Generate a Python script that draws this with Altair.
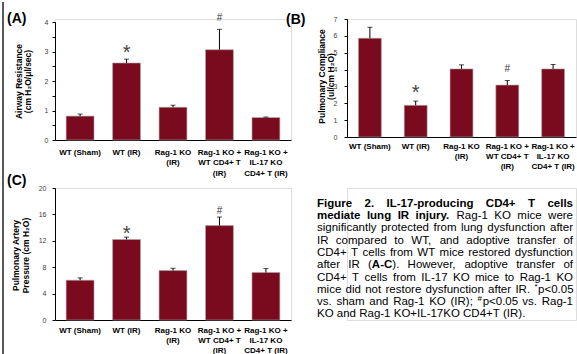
import altair as alt
import pandas as pd

# ---------------- data ----------------
groups = ["WT (Sham)", "WT (IR)", "Rag-1 KO|(IR)", "Rag-1 KO +|WT CD4+ T|(IR)", "Rag-1 KO +|IL-17 KO|CD4+ T (IR)"]
sig_marks = ["", "*", "", "#", ""]

airway_mean = [0.81, 2.61, 1.11, 3.06, 0.76]
airway_sem = [0.07, 0.13, 0.07, 0.69, 0.02]
compliance_mean = [5.86, 1.88, 4.04, 3.08, 4.04]
compliance_sem = [0.65, 0.25, 0.24, 0.27, 0.26]
pressure_mean = [6.03, 12.2, 7.49, 14.3, 7.19]
pressure_sem = [0.35, 0.36, 0.35, 1.30, 0.60]

caption_lines = [
    "**Figure 2. IL-17-producing CD4+ T cells**",
    "**mediate lung IR injury.** Rag-1 KO mice were",
    "significantly protected from lung dysfunction after",
    "IR compared to WT, and adoptive transfer of",
    "CD4+ T cells from WT mice restored dysfunction",
    "after IR (**A-C**). However, adoptive transfer of",
    "CD4+ T cells from IL-17 KO mice to Rag-1 KO",
    "mice did not restore dysfunction after IR. ^*^p<0.05",
    "vs. sham and Rag-1 KO (IR); ^#^p<0.05 vs. Rag-1",
    "KO and Rag-1 KO+IL-17KO CD4+T (IR).",
]
caption_justify = [True] * 9 + [False]

BAR = "#7a0a1e"
FONT = "Liberation Sans"

# ---------------- panels ----------------
def panel(mean, sem, label, title, ydomain, yvalues, integer_labels, width, height, yrange,
          pin, pout, lab_pad_y, lab_pad_x, lab_lh, title_x, title_y, title_lh,
          star_dy, hash_dy, label_x, label_y, left_line=False):
    df = pd.DataFrame({
        "group": groups,
        "mean": mean,
        "upper": [m + s for m, s in zip(mean, sem)],
        "sig": sig_marks,
    })
    xsc = alt.Scale(domain=groups, paddingInner=pin, paddingOuter=pout)
    ysc = alt.Scale(domain=ydomain, range=yrange, nice=False, zero=True)
    if integer_labels:
        label_expr = "datum.value % 1 == 0 ? format(datum.value, 'd') : ''"
    else:
        label_expr = "format(datum.value, 'd')"
    xaxis = alt.Axis(title=None, labelExpr="split(datum.label, '|')", labelFont=FONT,
                     labelFontWeight="bold", labelFontSize=8, labelColor="black",
                     labelLineHeight=lab_lh, labelPadding=lab_pad_x, ticks=False,
                     labelAngle=0, labelOverlap=False, labelLimit=0,
                     domainColor="black", domainWidth=1)
    yaxis = alt.Axis(title=title, titleFont=FONT, titleFontSize=8.5, titleFontWeight="bold",
                     titleColor="black", titleX=title_x, titleY=title_y,
                     titleBaseline="middle", titleLineHeight=title_lh,
                     values=yvalues, labelExpr=label_expr, labelFont=FONT,
                     labelFontSize=7, labelColor="#404040", labelPadding=lab_pad_y,
                     tickSize=3, tickColor="black", domainColor="black", domainWidth=1,
                     grid=False)
    X = alt.X("group:N", scale=xsc, sort=groups, axis=xaxis)
    base = alt.Chart(df)
    bars = base.mark_bar(color=BAR, stroke="#a8a8a8", strokeWidth=0.6).encode(
        x=X, y=alt.Y("mean:Q", scale=ysc, axis=yaxis))
    err = base.mark_rule(color="black", strokeWidth=1).encode(
        x=X, y=alt.Y("mean:Q", scale=ysc, axis=yaxis), y2="upper:Q")
    cap = base.mark_tick(color="black", size=5, thickness=1).encode(
        x=X, y=alt.Y("upper:Q", scale=ysc, axis=yaxis))
    star = base.transform_filter("datum.sig == '*'").mark_text(
        font=FONT, fontSize=20, color="#444444", baseline="alphabetic", dy=star_dy
    ).encode(x=X, y=alt.Y("upper:Q", scale=ysc, axis=yaxis), text="sig:N")
    hsh = base.transform_filter("datum.sig == '#'").mark_text(
        font=FONT, fontSize=10, color="#333333", baseline="alphabetic", dy=hash_dy
    ).encode(x=X, y=alt.Y("upper:Q", scale=ysc, axis=yaxis), text="sig:N")
    lab = alt.Chart(pd.DataFrame({"t": [label]})).mark_text(
        font=FONT, fontSize=14, fontWeight="bold", color="black", align="left", baseline="middle"
    ).encode(x=alt.value(label_x), y=alt.value(label_y), text="t:N")
    layers = [bars, err, cap, star, hsh, lab]
    if left_line:
        line = alt.Chart(pd.DataFrame({"t": [0]})).mark_rule(color="#5a5a5a", strokeWidth=2).encode(
            x=alt.value(-52), y=alt.value(-17), y2=alt.value(337))
        layers.append(line)
    return alt.layer(*layers).properties(width=width, height=height)


pA = panel(airway_mean, airway_sem, "(A)", ["Airway Resistance", "(cm H₂O/μl/sec)"],
           [0, 4], [0, 0.5, 1, 1.5, 2, 2.5, 3, 3.5, 4], True, 236, 121, [121, 3],
           0.4, 0.24, 4, 8, 10.5, -37, 62, 9, 0, -8.5, -48, 0, left_line=True)
pB = panel(compliance_mean, compliance_sem, "(B)", ["Pulmonary Compliance", "(ul/cm H₂O)"],
           [0, 7], [0, 1, 2, 3, 4, 5, 6, 7], False, 229, 118, [118, 0],
           0.5, 0.25, 7, 5, 10, -26, 57, 9, -2, -9, -61, 1)
pC = panel(pressure_mean, pressure_sem, "(C)", ["Pulmonary Artery", "Pressure  (cm H₂O)"],
           [0, 20], [0, 4, 8, 12, 16, 20], False, 236, 132, [132, 0],
           0.4, 0.24, 6, 6, 10, -40, 67, 10, 3, -3.5, -48, -7)

# ---------------- caption (justified) ----------------
_up = "ABCDEFGHIJKLMNOPQRSTUVWXYZ"
_lo = "abcdefghijklmnopqrstuvwxyz"
W_REG = dict(zip(_up, [667, 667, 722, 722, 667, 611, 778, 722, 278, 500, 667, 556, 833, 722, 778, 667, 778, 722, 667, 611, 722, 667, 944, 667, 667, 611]))
W_REG.update(dict(zip(_lo, [556, 556, 500, 556, 556, 278, 556, 556, 222, 222, 500, 222, 833, 556, 556, 556, 556, 333, 500, 278, 556, 500, 722, 500, 500, 500])))
W_BOLD = dict(zip(_up, [722, 722, 722, 722, 667, 611, 778, 722, 278, 556, 722, 611, 833, 722, 778, 667, 778, 722, 667, 611, 722, 667, 944, 667, 667, 611]))
W_BOLD.update(dict(zip(_lo, [556, 611, 556, 611, 556, 333, 611, 611, 278, 278, 556, 278, 889, 611, 611, 611, 611, 389, 556, 333, 611, 556, 778, 556, 556, 500])))
_punct = {" ": 278, ".": 278, ",": 278, ";": 278, "(": 333, ")": 333, "-": 333, "+": 584, "<": 584,
          "#": 556, "*": 389, "/": 278}
for d in (W_REG, W_BOLD):
    d.update(_punct)
    d.update({str(i): 556 for i in range(10)})

CAP_FS = 11.5
SUP_FS = 8
CAP_W = 256


def seg_width(text, style):
    if style == "bold":
        return sum(W_BOLD.get(c, 556) for c in text) * CAP_FS / 1000
    if style == "sup":
        return sum(W_REG.get(c, 556) for c in text) * SUP_FS / 1000
    return sum(W_REG.get(c, 556) for c in text) * CAP_FS / 1000


rows = []
for li, (line, just) in enumerate(zip(caption_lines, caption_justify)):
    chars = []
    bold = sup = False
    i = 0
    while i < len(line):
        if line.startswith("**", i):
            bold = not bold
            i += 2
            continue
        if line[i] == "^":
            sup = not sup
            i += 1
            continue
        chars.append((line[i], "sup" if sup else ("bold" if bold else "normal")))
        i += 1
    words, cur = [], []
    for c, s in chars:
        if c == " ":
            if cur:
                words.append(cur)
            cur = []
        else:
            cur.append((c, s))
    if cur:
        words.append(cur)
    wsegs = []
    for w in words:
        segs = []
        for c, s in w:
            if segs and segs[-1][1] == s:
                segs[-1][0] += c
            else:
                segs.append([c, s])
        wsegs.append(segs)
    wwidths = [sum(seg_width(t, s) for t, s in segs) for segs in wsegs]
    if just and len(wsegs) > 1:
        gap = (CAP_W - sum(wwidths)) / (len(wsegs) - 1)
    else:
        gap = 278 * CAP_FS / 1000
    x = 0.0
    for segs, ww in zip(wsegs, wwidths):
        sx = x
        for t, s in segs:
            rows.append({"line": li, "x": sx, "text": t, "style": s})
            sx += seg_width(t, s) + (0.6 if s == "sup" else 0)
        x += ww + gap

cap_df = pd.DataFrame(rows)
xs = alt.Scale(domain=[0, CAP_W], range=[-30, 226])
ys = alt.Scale(domain=[0, 9], range=[15.7, 126.4])
cap_base = alt.Chart(cap_df)


def cap_layer(style, **kw):
    return cap_base.transform_filter(f"datum.style == '{style}'").mark_text(
        font=FONT, color="black", align="left", baseline="middle", **kw
    ).encode(x=alt.X("x:Q", scale=xs, axis=None), y=alt.Y("line:Q", scale=ys, axis=None), text="text:N")


caption = alt.layer(
    cap_layer("normal", fontSize=CAP_FS),
    cap_layer("bold", fontSize=CAP_FS, fontWeight="bold"),
    cap_layer("sup", fontSize=SUP_FS, dy=-3),
).properties(width=229, height=132)

chart = alt.concat(
    pA, pB, pC, caption, columns=2, spacing={"row": 48, "column": 56}, bounds="flush"
).properties(
    padding={"left": 1, "top": 0, "right": 0, "bottom": 0}
).configure_view(stroke=None).configure(font=FONT)

chart.save("out.html", embed_options={"renderer": "svg", "actions": False})
